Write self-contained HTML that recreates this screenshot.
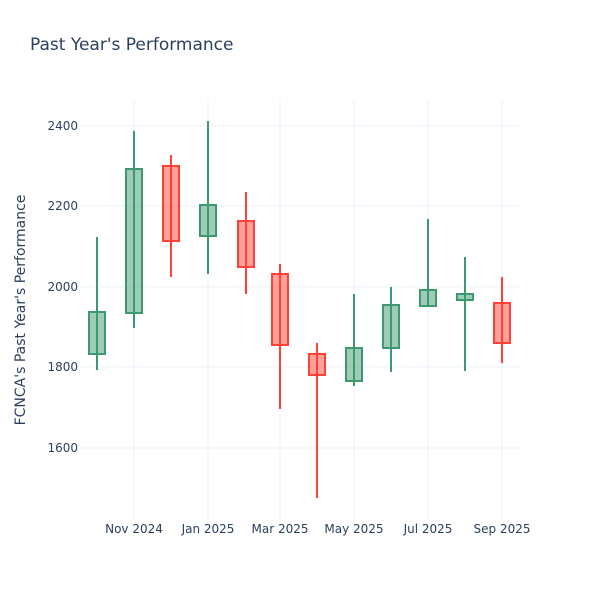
<!DOCTYPE html>
<html><head><meta charset="utf-8"><style>
body{margin:0;background:#fff}
text{font-family:"DejaVu Sans","Liberation Sans",sans-serif}
</style></head><body>
<svg width="600" height="600" xmlns="http://www.w3.org/2000/svg">
<rect width="600" height="600" fill="#fff"/>
<text x="30" y="50" font-size="17" fill="#2a3f5f">Past Year's Performance</text>
<g stroke="#ebf0f8" stroke-width="1">
<line x1="80" x2="520" y1="126" y2="126"/><line x1="80" x2="520" y1="206" y2="206"/>
<line x1="80" x2="520" y1="287" y2="287"/><line x1="80" x2="520" y1="367" y2="367"/>
<line x1="80" x2="520" y1="448" y2="448"/>
<line x1="134" x2="134" y1="100" y2="520"/><line x1="208" x2="208" y1="100" y2="520"/>
<line x1="280" x2="280" y1="100" y2="520"/><line x1="354" x2="354" y1="100" y2="520"/>
<line x1="428" x2="428" y1="100" y2="520"/><line x1="502" x2="502" y1="100" y2="520"/>
</g>
<g font-size="12" fill="#2a3f5f" text-anchor="end">
<text x="78" y="130">2400</text><text x="78" y="210">2200</text><text x="78" y="291">2000</text>
<text x="78" y="371">1800</text><text x="78" y="452">1600</text>
</g>
<g font-size="12" fill="#2a3f5f" text-anchor="middle">
<text x="134" y="533">Nov 2024</text><text x="208" y="533">Jan 2025</text><text x="280" y="533">Mar 2025</text>
<text x="354" y="533">May 2025</text><text x="428" y="533">Jul 2025</text><text x="502" y="533">Sep 2025</text>
</g>
<text transform="translate(25,310) rotate(-90)" font-size="14" fill="#2a3f5f" text-anchor="middle">FCNCA's Past Year's Performance</text>
<g stroke-width="2">
<g stroke="#3D9970" fill="rgba(61,153,112,0.5)">
<line x1="97" x2="97" y1="237" y2="370"/><rect x="89" y="312" width="16" height="42"/>
<line x1="134" x2="134" y1="131" y2="328"/><rect x="126" y="169" width="16" height="144"/>
<line x1="208" x2="208" y1="121" y2="274"/><rect x="200" y="205" width="16" height="31"/>
<line x1="354" x2="354" y1="294" y2="386"/><rect x="346" y="348" width="16" height="33"/>
<line x1="391" x2="391" y1="287" y2="372"/><rect x="383" y="305" width="16" height="43"/>
<line x1="428" x2="428" y1="219" y2="306"/><rect x="420" y="290" width="16" height="16"/>
<line x1="465" x2="465" y1="257" y2="371"/><rect x="457" y="294" width="16" height="6"/>
</g>
<g stroke="#FF4136" fill="rgba(255,65,54,0.5)">
<line x1="171" x2="171" y1="155" y2="277"/><rect x="163" y="166" width="16" height="75"/>
<line x1="246" x2="246" y1="192" y2="294"/><rect x="238" y="221" width="16" height="46"/>
<line x1="280" x2="280" y1="264" y2="409"/><rect x="272" y="274" width="16" height="71"/>
<line x1="317" x2="317" y1="343" y2="498"/><rect x="309" y="354" width="16" height="21"/>
<line x1="502" x2="502" y1="277" y2="363"/><rect x="494" y="303" width="16" height="40"/>
</g>
</g>
</svg>
</body></html>
